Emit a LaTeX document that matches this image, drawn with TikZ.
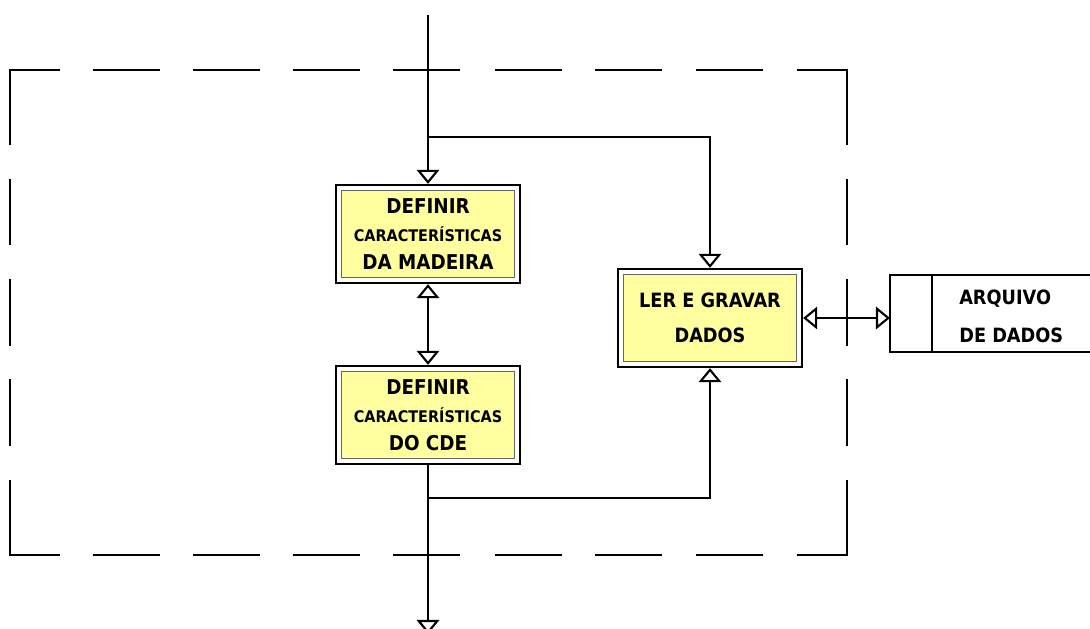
\documentclass[tikz,border=0pt]{standalone}
\usepackage{fontspec}
\setmainfont{DejaVu Sans Condensed}
\usetikzlibrary{arrows.meta}
\definecolor{procyellow}{RGB}{255,255,160}

\begin{document}
\begin{tikzpicture}[
  x=0.025cm, y=-0.025cm,
  >={Triangle[open,length=10pt,width=16pt]},
  procbox/.style={draw=black, line width=1.6pt, fill=white, minimum width=4.6cm, minimum height=2.45cm,
    inner sep=0pt, align=center, font=\bfseries\fontsize{14.5}{19.9}\selectfont,
    path picture={\draw[draw=gray!80!black, line width=0.5pt, fill=procyellow]
      ([shift={(4pt,4pt)}]path picture bounding box.south west) rectangle
      ([shift={(-4pt,-4pt)}]path picture bounding box.north east);}},
  flow/.style={->, line width=1.5pt},
  flowboth/.style={<->, line width=1.5pt},
  frameline/.style={line width=1.2pt},
  storeline/.style={line width=1.2pt}
]
  \useasboundingbox (0,0) rectangle (1090,629);

  % dashed frame
  \draw[frameline] (10,145) -- (10,70) -- (60,70);
  \draw[frameline] (797,70) -- (847,70) -- (847,145);
  \draw[frameline] (10,480) -- (10,555) -- (60,555);
  \draw[frameline] (797,555) -- (847,555) -- (847,480);
  \foreach \a/\b in {93/160,193/260,293/360,393/460,495/562,595/662,696/763} {
    \draw[frameline] (\a,70) -- (\b,70);
    \draw[frameline] (\a,555) -- (\b,555);
  }
  \foreach \a/\b in {179/245,279/346,379/446} {
    \draw[frameline] (10,\a) -- (10,\b);
    \draw[frameline] (847,\a) -- (847,\b);
  }

  % processes
  \node[procbox] (madeira) at (428,234) {DEFINIR\\{\fontsize{11.4}{19.9}\selectfont CARACTERÍSTICAS}\\DA MADEIRA};
  \node[procbox] (cde) at (428,415) {DEFINIR\\{\fontsize{11.4}{19.9}\selectfont CARACTERÍSTICAS}\\DO CDE};
  \node[procbox, font=\bfseries\fontsize{14}{24.9}\selectfont] (dados) at (710,318) {LER E GRAVAR\\DADOS};

  % data store
  \draw[storeline] (1095,275) -- (890,275) -- (890,352) -- (1095,352);
  \draw[storeline] (932,275) -- (932,352);
  \node[anchor=west, align=left, inner sep=0pt, font=\bfseries\fontsize{14}{27}\selectfont] (arquivo) at (959,316) {ARQUIVO\\DE DADOS};

  \coordinate (entrada) at (428,15);
  \coordinate (split1) at (428,137);
  \coordinate (split2) at (428,498);
  \coordinate (saida) at (428,634);
  \coordinate (storein) at (890,318);

  % connectors
  \draw[flow] (entrada) -- (madeira.north);
  \draw[flow] (split1) -| (dados.north);
  \draw[flowboth] (madeira.south) -- (cde.north);
  \draw[flow] (cde.south) -- (saida);
  \draw[flow] (split2) -| (dados.south);
  \draw[flowboth] (dados.east) -- (storein);
\end{tikzpicture}
\end{document}
